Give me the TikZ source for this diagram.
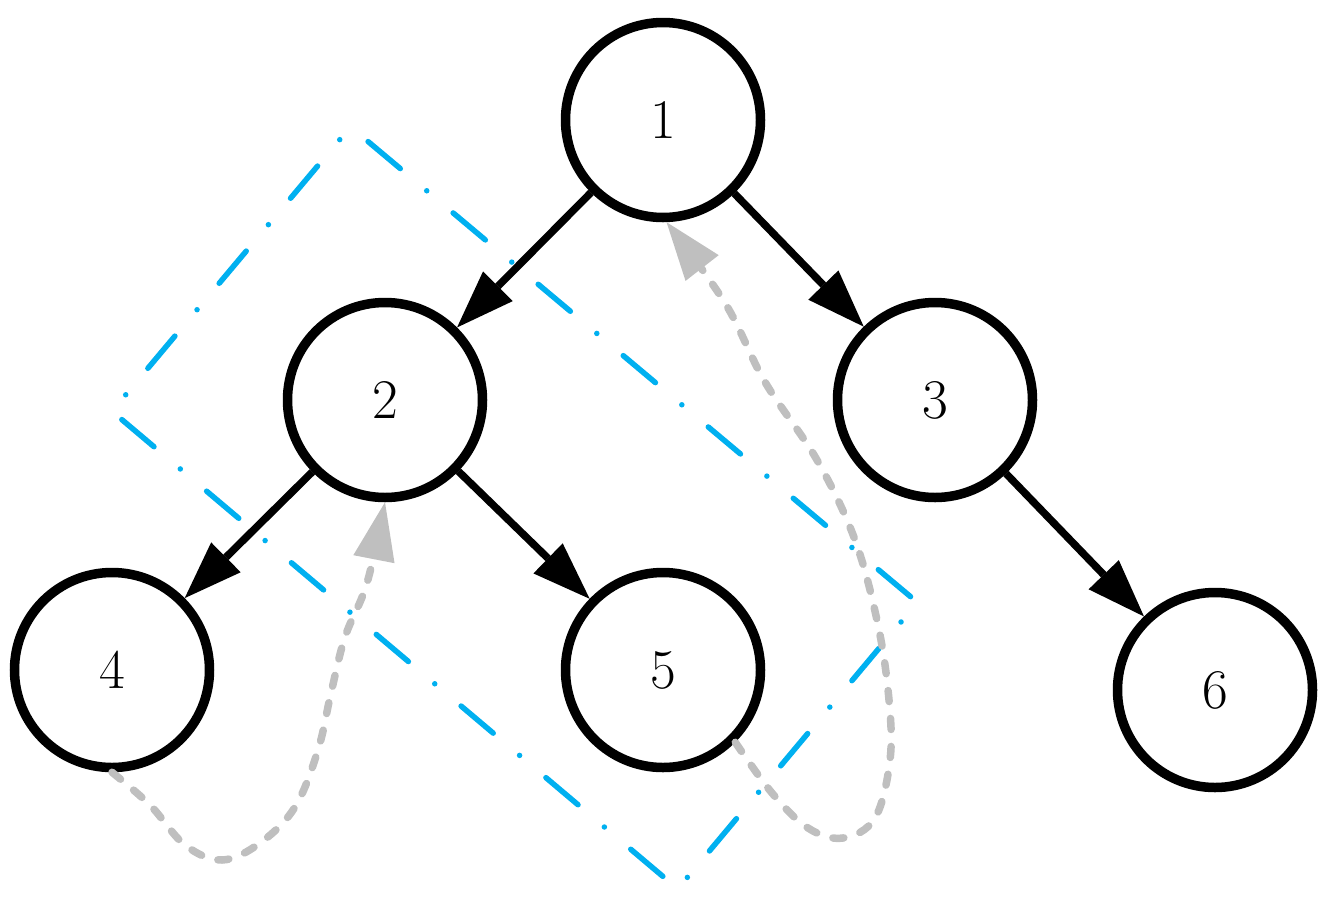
\documentclass[tikz,border=0pt]{standalone}
\usetikzlibrary{arrows.meta}
\definecolor{hlblue}{RGB}{0,176,240}
\definecolor{flowgray}{RGB}{191,191,191}
\begin{document}
\begin{tikzpicture}[x=1pt,y=-1pt,
  vertex/.style={circle,draw=black,line width=9.5pt,minimum size=195pt,inner sep=0pt,fill=white,font=\fontsize{56}{60}\selectfont},
  treeedge/.style={draw=black,line width=7.5pt,-{Triangle[length=58pt,width=42pt,line width=0pt]}},
  flow/.style={draw=flowgray,line width=7.5pt,line cap=round,dash pattern=on 11pt off 17pt,-{Triangle[length=58pt,width=42pt,line width=0pt,fill=flowgray]}},
  frame/.style={draw=hlblue,line width=5.5pt,line cap=round,dash pattern=on 42pt off 34.5pt on 0pt off 34.5pt,dash phase=88pt}]
\useasboundingbox (0,0) rectangle (1330,903);
% highlight frame
\coordinate (fT) at (350.5,126.8);
\coordinate (fR) at (917.4,602.4);
\coordinate (fB) at (677.7,888.9);
\coordinate (fL) at (111.9,411.2);
\draw[frame] (fT) -- (fR) -- (fB) -- (fL) -- cycle;
% nodes
\node[vertex] (n1) at (663,120) {1};
\node[vertex] (n2) at (385,400) {2};
\node[vertex] (n3) at (935,400) {3};
\node[vertex] (n4) at (112,670) {4};
\node[vertex] (n5) at (663,670) {5};
\node[vertex] (n6) at (1215,690) {6};
% tree edges
\draw[treeedge] (n1) -- (n2);
\draw[treeedge] (n1) -- (n3);
\draw[treeedge] (n2) -- (n4);
\draw[treeedge] (n2) -- (n5);
\draw[treeedge] (n3) -- (n6);
% gray flows
\draw[flow] plot[smooth,tension=0.6] coordinates {(n4.south) (150,805) (185,845) (222,860) (260,843) (295,807) (318,750) (331,693) (345,637) (367,583) (n2.south)};
\draw[flow] plot[smooth,tension=0.6] coordinates {(n5.-45) (772,793) (808,828) (843,838) (875,818) (890,760) (889,700) (878,625) (855,540) (817,460) (765,382) (725,303) (n1.-88)};
\end{tikzpicture}
\end{document}
